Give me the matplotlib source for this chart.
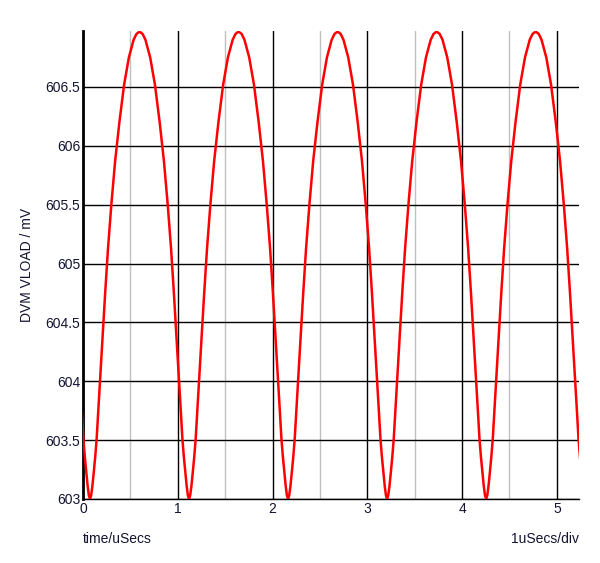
import numpy as np
import matplotlib
matplotlib.use("Agg")
import matplotlib.pyplot as plt

plt.rcParams['font.family'] = ['Liberation Sans', 'DejaVu Sans']

# trough times (uSecs), one per ripple cycle
trough_t = [0.074, 1.119, 2.164, 3.209, 4.254, 5.299]
# half-wave profile: time from trough (uSecs) -> mV above 603
half_dt = [0.0, 0.012, 0.025, 0.04, 0.055, 0.07, 0.09, 0.11, 0.135, 0.16, 0.19,
           0.225, 0.265, 0.31, 0.36, 0.41, 0.46, 0.49, 0.5225]
half_mv = [0.0, 0.03, 0.11, 0.23, 0.36, 0.51, 0.79, 1.07, 1.41, 1.75, 2.13,
           2.50, 2.87, 3.20, 3.52, 3.75, 3.90, 3.95, 3.97]
base_mv = 603.0

x_ticks = [0, 1, 2, 3, 4, 5]
y_ticks = [603, 603.5, 604, 604.5, 605, 605.5, 606, 606.5]
y_tick_labels = ["603", "603.5", "604", "604.5", "605", "605.5", "606", "606.5"]

dt = np.array(half_dt)
mv = np.array(half_mv)
tt = []
vv = []
for i, m in enumerate(trough_t):
    # falling side into this trough
    tt.append(m - dt[::-1])
    vv.append(mv[::-1])
    if i < len(trough_t) - 1:
        # rising side out of it
        tt.append(m + dt[1:])
        vv.append(mv[1:])
t = np.concatenate(tt)
v = base_mv + np.concatenate(vv)

fig = plt.figure(figsize=(6.0, 5.63), dpi=100)
ax = fig.add_axes([83/600, 64/563, 496/600, 468/563])

ax.plot(t, v, color="#ff0000", lw=1.8, zorder=3)

ax.set_xlim(0, 5.234)
ax.set_ylim(603, 606.975)

ax.set_xticks(x_ticks)
ax.set_xticks([0.5, 1.5, 2.5, 3.5, 4.5], minor=True)
ax.set_yticks(y_ticks)
ax.set_yticklabels(y_tick_labels)
ax.grid(which="minor", axis="x", color="#c0c0c0", lw=1.0, zorder=1)
ax.grid(which="major", color="black", lw=1.0, zorder=2)
ax.set_axisbelow(True)
ax.tick_params(which="both", length=0, labelsize=10, labelcolor="#141432", pad=2)

for s in ["top", "right"]:
    ax.spines[s].set_visible(False)
ax.spines["left"].set_linewidth(2.0)
ax.spines["bottom"].set_linewidth(1.0)

fig.text(27/600, 1 - 265/563, "DVM VLOAD / mV", rotation=90, ha="center",
         va="center", fontsize=10, color="#141432")
fig.text(83/600, 1 - 539/563, "time/uSecs", ha="left", va="center",
         fontsize=10, color="#141432")
fig.text(579/600, 1 - 539/563, "1uSecs/div", ha="right", va="center",
         fontsize=10, color="#141432")

fig.savefig("out.png", dpi=100)
